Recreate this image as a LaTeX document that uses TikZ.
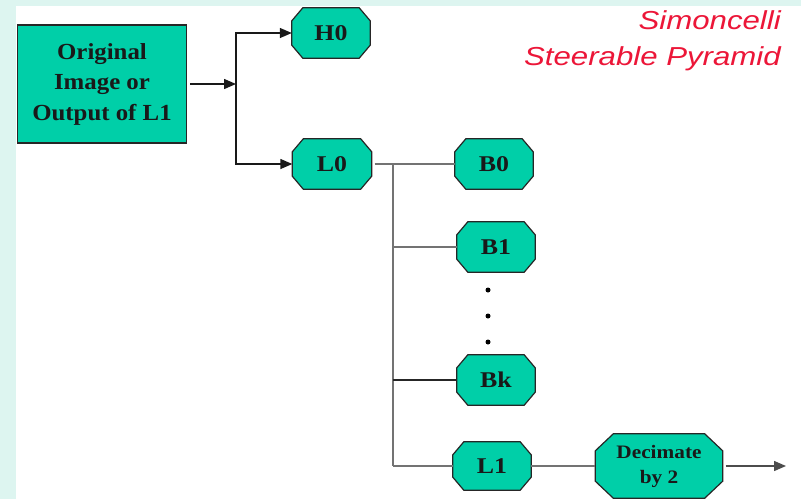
\documentclass[tikz,border=0pt]{standalone}
\usepackage{fontspec}
\setmainfont{Liberation Serif}
\newfontfamily\arialf{Liberation Sans}
\usetikzlibrary{calc,arrows.meta,backgrounds}
\definecolor{tealfill}{HTML}{00CFA8}
\definecolor{framebg}{HTML}{DDF5F0}
\definecolor{titlered}{HTML}{EC1638}
\newcommand\sx[1]{\scalebox{1.15}[1]{#1}}
\newcommand\sxb[1]{\scalebox{1.08}[1]{#1}}
\newcommand\sxd[1]{\scalebox{1.12}[1]{#1}}
\newcommand\sxr[1]{\scalebox{1.2}[1]{#1}}
\newcommand\octo[3]{\filldraw[octshape] ($(#1.north west)+(#2,0)$) -- ($(#1.north east)+(-#2,0)$) -- ($(#1.north east)+(0,#3)$) -- ($(#1.south east)+(0,-#3)$) -- ($(#1.south east)+(-#2,0)$) -- ($(#1.south west)+(#2,0)$) -- ($(#1.south west)+(0,-#3)$) -- ($(#1.north west)+(0,#3)$) -- cycle;}
\tikzset{
  octshape/.style={fill=tealfill, draw=black!85, line width=1.2pt},
  octnode/.style={draw=none, inner sep=0pt, minimum width=78pt, minimum height=50pt,
    font=\bfseries\fontsize{22.5}{27}\selectfont, text=black!90},
  srcbox/.style={rectangle, fill=tealfill, draw=black!85, line width=1.2pt,
    minimum width=169pt, minimum height=118pt, align=center, inner sep=0pt,
    font=\bfseries\fontsize{23}{30.5}\selectfont, text=black!90},
  arrowline/.style={draw=black!90, line width=1.4pt, -{Triangle[length=12pt,width=10pt]}},
  treeline/.style={draw=black!55, line width=1.6pt},
  treeblack/.style={draw=black!85, line width=1.4pt},
  dot/.style={circle, fill=black, inner sep=0pt, minimum size=5pt},
  titletext/.style={anchor=base east, inner sep=0pt, text=titlered,
    font=\arialf\itshape\fontsize{26}{30}\selectfont}
}
\begin{document}
\begin{tikzpicture}[x=1pt,y=-1pt]
\useasboundingbox (0,0) rectangle (801,499);
\begin{scope}[on background layer]
  \fill[framebg] (0,0) rectangle (801,499);
  \fill[white] (16,6) rectangle (801,499);
\end{scope}
% nodes
\node[srcbox] (orig) at (102,84) {\sxb{Original}\\\sxb{Image or}\\\sxb{Output of L1}};
\node[octnode] (H0) at (331,33) {\sx{H0}};
\node[octnode, minimum width=79pt] (L0) at (332,164) {\sx{L0}};
\node[octnode] (B0) at (494,164) {\sx{B0}};
\node[octnode] (B1) at (496,247) {\sx{B1}};
\node[octnode] (Bk) at (496,380) {\sx{Bk}};
\node[octnode, minimum height=48pt] (L1) at (492,466) {\sx{L1}};
\node[octnode, minimum width=127pt, minimum height=64pt, align=center,
  font=\bfseries\fontsize{19}{25}\selectfont] (dec) at (659,466) {\sxd{Decimate}\\\sxd{by 2}};
\begin{scope}[on background layer]
  \octo{H0}{11}{13}
  \octo{L0}{11}{13}
  \octo{B0}{11}{13}
  \octo{B1}{11}{13}
  \octo{Bk}{11}{13}
  \octo{L1}{11}{13}
  \octo{dec}{18}{17}
\end{scope}
% dots
\node[dot] (d1) at (488,290) {};
\node[dot] (d2) at (488,316) {};
\node[dot] (d3) at (488,342) {};
% title
\node[titletext] (sim) at (781,29) {\sxr{Simoncelli}};
\node[titletext] (ster) at (781,65) {\sxr{Steerable Pyramid}};
% connectors
\coordinate (j1) at (236,84);
\coordinate (j2) at (393,164);
\coordinate (j3) at (393,466);
\coordinate (out) at (786,466);
\draw[arrowline] (orig.east) ++(3,0) -- (j1);
\draw[arrowline] (j1) |- (H0.west);
\draw[arrowline] (j1) |- (L0.west);
\draw[treeline] (L0.east) ++(3,0) -- (B0.west);
\draw[treeline] (j2) -- (j3);
\draw[treeline] (B1.west -| j2) -- (B1.west);
\draw[treeblack] (Bk.west -| j2) -- (Bk.west);
\draw[treeline] (j3) -- (L1.west);
\draw[treeline] (L1.east) -- (dec.west);
\draw[arrowline, draw=black!70] (dec.east) ++(3,0) -- (out);
\end{tikzpicture}
\end{document}
